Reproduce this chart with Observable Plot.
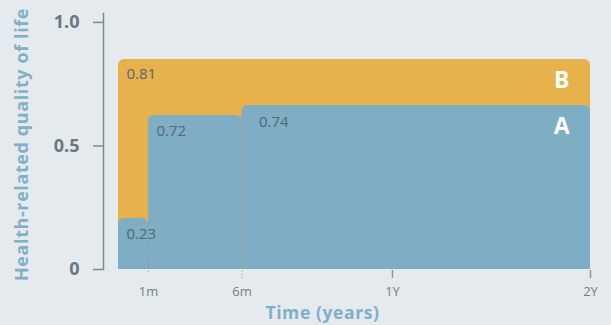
<!DOCTYPE html>
<html>
<head>
<meta charset="utf-8">
<script src="https://cdn.jsdelivr.net/npm/d3@7"></script>
<script src="https://cdn.jsdelivr.net/npm/@observablehq/plot@0.6"></script>
<style>
  html, body { margin: 0; padding: 0; background: #e5eaee; }
  #chart svg { display: block; }
  .axis-title text { letter-spacing: 0.6px; }
</style>
</head>
<body>
<div id="chart"></div>
<script>
// Series B (orange)
const seriesBStart = [0];
const seriesBEnd = [24];
const seriesBHeight = [0.85];
const seriesBLabels = ["0.81"];
// Series A (blue)
const seriesAStart = [0, 1, 6];
const seriesAEnd = [1, 6, 24];
const seriesAHeight = [0.206, 0.623, 0.664];
const seriesALabels = ["0.23", "0.72", "0.74"];
// Axes
const xTickValues = [1, 6, 12, 24];
const xTickLabels = ["1m", "6m", "1Y", "2Y"];
const yTickValues = [0, 0.5, 1];
const yTickLabels = ["0", "0.5", "1.0"];
const seriesNames = ["A", "B"];

const B = seriesBStart.map((s, i) => ({x1: s, x2: seriesBEnd[i], v: seriesBHeight[i], label: seriesBLabels[i]}));
const A = seriesAStart.map((s, i) => ({x1: s, x2: seriesAEnd[i], v: seriesAHeight[i], label: seriesALabels[i], i}));

const orange = "#e7b14c";
const blue = "#7eadc4";
const labelColor = "#52667a";
const font = "'Open Sans', sans-serif";

const chart = Plot.plot({
  width: 611,
  height: 325,
  marginTop: 13,
  marginBottom: 56,
  marginLeft: 103,
  marginRight: 0,
  style: {background: "#e5eaee", fontFamily: font},
  x: {type: "linear", domain: [0, 1, 6, 12, 24], range: [118, 148, 241.5, 392, 590], axis: null},
  y: {domain: [0, 1.036], axis: null},
  marks: [
    Plot.rect(B, {x1: "x1", x2: "x2", y1: -0.05, y2: "v", fill: orange, rx: 6, clip: true}),
    Plot.rect(A, {x1: "x1", x2: "x2", y1: -0.05, y2: "v", fill: blue, rx: 6, clip: true}),
    // dotted separators at 1m and 6m
    Plot.ruleX(A.slice(0, 2), {x: "x2", y1: (d, i) => i === 0 ? -0.012 : -0.036, y2: "v", stroke: "#8c969c", strokeDasharray: "1,2", strokeWidth: 1}),
    // solid ticks at 1Y and 2Y
    Plot.ruleX(xTickValues.slice(2), {x: d => d, y1: -0.004, y2: -0.036, stroke: "#8c969c", strokeWidth: 1.5}),
    Plot.axisX(xTickValues, {anchor: "bottom", tickSize: 0, tickPadding: 17, tickFormat: d => xTickLabels[xTickValues.indexOf(d)], fontSize: 13, fill: "#737f87", label: null}),
    Plot.frame({anchor: "left", stroke: "#7d8a92", strokeWidth: 1.5}),
    Plot.axisY(yTickValues, {anchor: "left", tickSize: 10, tickPadding: 14, tickFormat: d => yTickLabels[yTickValues.indexOf(d)], fontSize: 18, fontWeight: "bold", fill: "#6c7880", stroke: "#7d8a92", strokeWidth: 1.5, label: null}),
    // value labels
    Plot.text(B, {x: "x1", y: "v", text: "label", textAnchor: "start", lineAnchor: "bottom", dx: 8, dy: 20, fontSize: 15, fill: labelColor}),
    Plot.text(A.filter(d => d.i < 2), {x: "x1", y: "v", text: "label", textAnchor: "start", lineAnchor: "bottom", dx: 8, dy: 20, fontSize: 15, fill: labelColor}),
    Plot.text(A.filter(d => d.i === 2), {x: "x1", y: "v", text: "label", textAnchor: "start", lineAnchor: "bottom", dx: 17, dy: 22, fontSize: 15, fill: labelColor}),
    // series names
    Plot.text(B, {x: "x2", y: "v", text: () => seriesNames[1], textAnchor: "end", lineAnchor: "bottom", dx: -21, dy: 29, fontSize: 23, fontWeight: "bold", fill: "white"}),
    Plot.text(A.filter(d => d.i === 2), {x: "x2", y: "v", text: () => seriesNames[0], textAnchor: "end", lineAnchor: "bottom", dx: -21, dy: 29, fontSize: 23, fontWeight: "bold", fill: "white"}),
    // axis titles
    Plot.text(["Health-related quality of life"], {frameAnchor: "left", textAnchor: "middle", lineAnchor: "middle", rotate: -90, dx: -81, dy: 3, fontSize: 18, fontWeight: "bold", fill: "#7fb0c8", className: "axis-title"}),
    Plot.text(["Time (years)"], {frameAnchor: "bottom", textAnchor: "middle", lineAnchor: "middle", dx: -35, dy: 44, fontSize: 17.5, fontWeight: "bold", fill: "#7fb0c8", className: "axis-title"})
  ]
});
document.getElementById("chart").appendChild(chart);
</script>
</body>
</html>
